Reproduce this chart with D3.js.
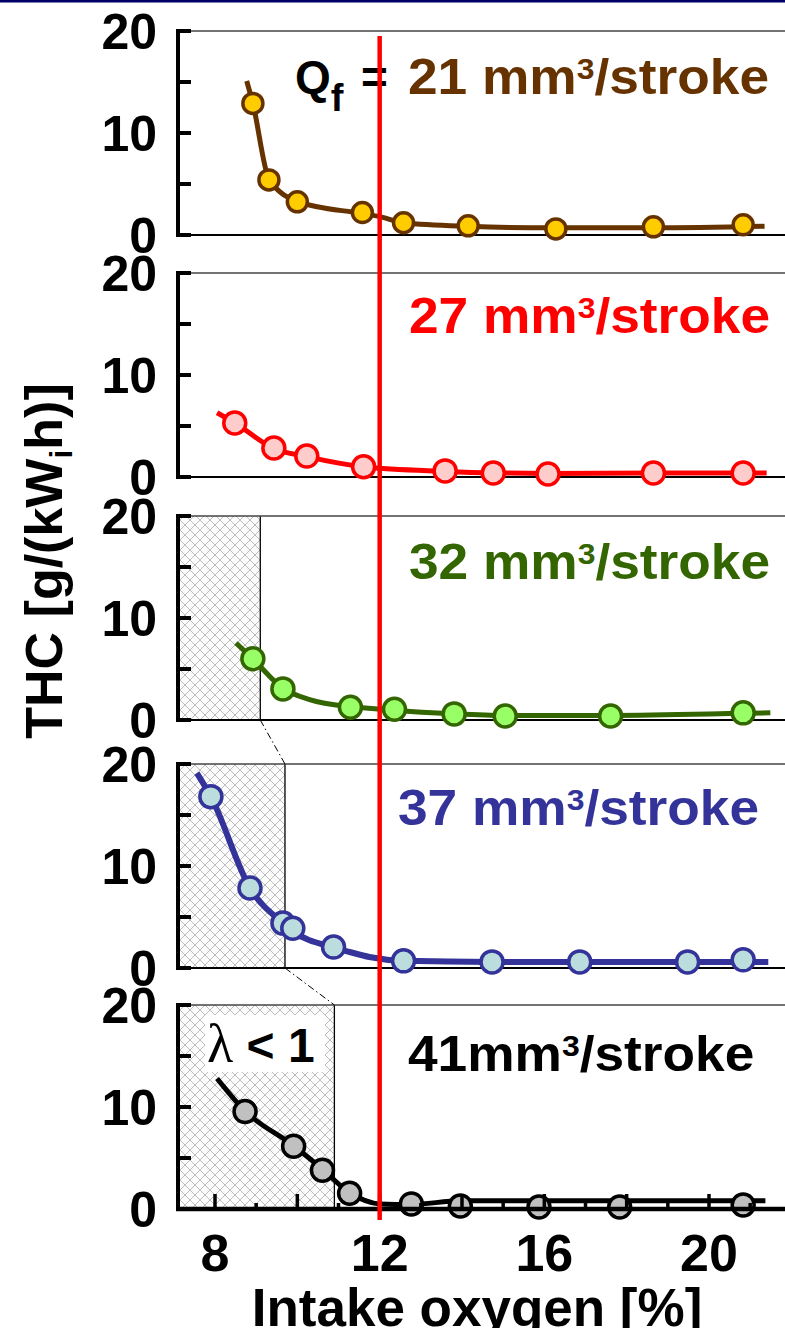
<!DOCTYPE html>
<html>
<head>
<meta charset="utf-8">
<script src="https://cdn.jsdelivr.net/npm/d3@7"></script>
<style>
  body { margin: 0; background: #fff; }
  svg { display: block; font-family: "Liberation Sans", Arial, sans-serif; font-weight: bold; }
</style>
</head>
<body>
<svg id="chart" width="785" height="1328"></svg>
<script>
// ---- data ----
const fuelQty    = ["21", "27", "32", "37", "41"];
const lineColors = ["#663300", "#ff0000", "#336600", "#333399", "#000000"];
const dotColors  = ["#ffcc00", "#ffcccc", "#99ff66", "#bbdddd", "#c0c0c0"];
const richLimit  = [null, null, 9.1, 9.7, 10.9];   // lambda < 1 below this O2
const o2Limit    = 12;                               // red vertical line

const o2_21  = [8.92, 9.31, 10.0, 11.58, 12.58, 14.15, 16.28, 18.65, 20.83];
const thc_21 = [12.9, 5.4, 3.25, 2.2, 1.2, 0.9, 0.6, 0.8, 1.0];
const fit_21 = [[8.77, 15.1], [8.92, 12.9], [9.31, 5.5], [10.0, 3.3], [11.58, 2.1], [12.0, 1.8],
                [12.58, 1.2], [14.15, 0.85], [16.28, 0.7], [18.65, 0.7], [21.35, 0.85]];

const o2_27  = [8.48, 9.43, 10.23, 11.61, 13.59, 14.76, 16.09, 18.65, 20.83];
const thc_27 = [5.3, 2.85, 2.05, 1.0, 0.6, 0.4, 0.3, 0.4, 0.4];
const fit_27 = [[8.05, 6.3], [8.48, 5.3], [9.43, 2.8], [10.23, 2.0], [11.61, 1.0], [13.59, 0.55],
                [14.76, 0.4], [16.09, 0.35], [18.65, 0.4], [21.4, 0.4]];

const o2_32  = [8.92, 9.65, 11.29, 12.36, 13.81, 15.05, 17.61, 20.83];
const thc_32 = [6.0, 3.05, 1.25, 1.05, 0.6, 0.4, 0.4, 0.7];
const fit_32 = [[8.51, 7.55], [8.92, 6.0], [9.65, 3.1], [10.3, 2.0], [11.29, 1.3], [12.0, 1.08],
                [12.36, 0.95], [13.81, 0.6], [15.05, 0.45], [17.61, 0.45], [20.83, 0.65], [21.49, 0.7]];

const o2_37  = [7.9, 8.85, 9.65, 9.89, 10.88, 12.58, 14.73, 16.86, 19.48, 20.83];
const thc_37 = [16.8, 7.85, 4.4, 3.9, 2.05, 0.7, 0.6, 0.6, 0.6, 0.8];
const fit_37 = [[7.56, 19.1], [7.9, 16.8], [8.85, 7.85], [9.65, 4.4], [9.89, 3.6], [10.88, 2.0],
                [11.27, 1.57], [11.75, 1.08], [12.58, 0.7], [14.73, 0.6], [21.44, 0.6]];

const o2_41  = [8.73, 9.91, 10.61, 11.27, 12.77, 13.96, 15.87, 17.83, 20.83];
const thc_41 = [9.55, 6.15, 3.8, 1.55, 0.5, 0.3, 0.2, 0.2, 0.4];
const fit_41 = [[8.05, 12.8], [8.73, 9.6], [9.91, 6.2], [10.61, 3.9], [11.27, 1.6], [12.0, 0.5],
                [12.77, 0.45], [13.96, 0.8], [17.3, 0.8], [21.37, 0.8]];

const yTicks = [0, 10, 20];
const xTicks = [8, 12, 16, 20];

const seriesX = [o2_21, o2_27, o2_32, o2_37, o2_41];
const seriesY = [thc_21, thc_27, thc_32, thc_37, thc_41];
const fits    = [fit_21, fit_27, fit_32, fit_37, fit_41];

// ---- layout ----
const axisX = 178, rightX = 785;
const panelTop = [31, 273, 516, 764, 1005];
const panelH = 204;
const labelX = [408, 409, 409, 398, 408];
const labelDy = [63, 60, 63, 61, 66];

const svg = d3.select("#chart");

const x = d3.scaleLinear().domain([8, 20]).range([215, 709]);

// hatch pattern for rich region
const pat = svg.append("defs").append("pattern")
    .attr("id", "hatch")
    .attr("patternUnits", "userSpaceOnUse")
    .attr("width", 10).attr("height", 10);
pat.append("rect").attr("width", 10).attr("height", 10).attr("fill", "#fcfcfc");
pat.append("path").attr("d", "M0,0L10,10M10,0L0,10M-1,9L1,11M9,-1L11,1")
    .attr("stroke", "#bdbdbd").attr("stroke-width", 1);

// top rule
svg.append("rect").attr("x", 0).attr("y", 0).attr("width", 785).attr("height", 2.5).attr("fill", "#000066");

fuelQty.forEach((q, i) => {
    const top = panelTop[i], bottom = top + panelH;
    const y = d3.scaleLinear().domain([0, 20]).range([bottom, top]);
    const g = svg.append("g");

    // rich (lambda < 1) shaded area
    if (richLimit[i] != null) {
        g.append("rect")
            .attr("x", axisX).attr("y", top)
            .attr("width", x(richLimit[i]) - axisX).attr("height", panelH)
            .attr("fill", "url(#hatch)");
        g.append("line")
            .attr("x1", x(richLimit[i])).attr("x2", x(richLimit[i]))
            .attr("y1", top).attr("y2", bottom)
            .attr("stroke", "#000").attr("stroke-width", 1.3);
    }

    // frame
    g.append("line").attr("x1", axisX + 10).attr("x2", rightX).attr("y1", top).attr("y2", top)
        .attr("stroke", "#444").attr("stroke-width", 1.3);
    if (i < 4) {
        g.append("line").attr("x1", axisX).attr("x2", rightX).attr("y1", bottom).attr("y2", bottom)
            .attr("stroke", "#000").attr("stroke-width", 1.8);
    }

    // y axis
    g.append("line").attr("x1", axisX).attr("x2", axisX).attr("y1", top - 2).attr("y2", bottom + 2)
        .attr("stroke", "#000").attr("stroke-width", 4);
    g.selectAll(".ytick").data([0, 5, 10, 15, 20]).enter().append("line")
        .attr("x1", axisX).attr("x2", axisX + 13)
        .attr("y1", d => y(d)).attr("y2", d => y(d))
        .attr("stroke", "#000").attr("stroke-width", 4);
    g.selectAll(".ylab").data(yTicks).enter().append("text")
        .attr("x", 157).attr("y", d => y(d)).attr("dy", "0.36em")
        .attr("text-anchor", "end").attr("font-size", 50)
        .text(d => d);

    // fitted curve
    g.append("path")
        .datum(fits[i])
        .attr("d", d3.line().x(d => x(d[0])).y(d => y(d[1])).curve(d3.curveMonotoneX))
        .attr("fill", "none").attr("stroke", lineColors[i])
        .attr("stroke-width", i === 3 ? 6 : 5);

    // measured points
    g.selectAll("circle").data(seriesX[i]).enter().append("circle")
        .attr("cx", d => x(d)).attr("cy", (d, k) => y(seriesY[i][k]))
        .attr("r", i === 0 ? 10 : 11)
        .attr("fill", dotColors[i]).attr("stroke", lineColors[i]).attr("stroke-width", 3.5);

    // label (slightly widened like the original lettering)
    const t = g.append("text")
        .attr("transform", `translate(${labelX[i]},${top + labelDy[i]}) scale(1.065,1)`)
        .attr("font-size", 50).attr("fill", lineColors[i]);
    t.append("tspan").text(i === 4 ? q + "mm" : q + " mm");
    t.append("tspan").attr("font-size", 30).attr("dy", -15).text("3");
    t.append("tspan").attr("dy", 15).text("/stroke");
});

// Q_f = on first panel
const qf = svg.append("text").attr("y", 93).attr("font-size", 46).attr("fill", "#000");
qf.append("tspan").attr("x", 295).text("Q");
qf.append("tspan").attr("font-size", 38).attr("dy", 18).text("f");
qf.append("tspan").attr("x", 361).attr("dy", -18).text("=");

// dash-dot connectors between shaded areas
[[2, 3], [3, 4]].forEach(([a, b]) => {
    svg.append("line")
        .attr("x1", x(richLimit[a])).attr("y1", panelTop[a] + panelH)
        .attr("x2", x(richLimit[b])).attr("y2", panelTop[b])
        .attr("stroke", "#000").attr("stroke-width", 1)
        .attr("stroke-dasharray", "7,3,1.5,3");
});

// lambda < 1 label
const lastTop = panelTop[4], lastBottom = panelTop[4] + panelH;
svg.append("rect").attr("x", 205).attr("y", lastTop + 10).attr("width", 120).attr("height", 57).attr("fill", "#fff");
const lam = svg.append("text").attr("x", 207).attr("y", lastTop + 57).attr("font-size", 48);
lam.append("tspan").attr("font-family", "Liberation Serif, serif").attr("font-weight", "normal").attr("font-size", 54).text("λ");
lam.append("tspan").text(" < 1");

// bottom x axis
svg.append("line").attr("x1", axisX - 2).attr("x2", rightX).attr("y1", lastBottom).attr("y2", lastBottom)
    .attr("stroke", "#000").attr("stroke-width", 4.5);
svg.selectAll(".xtick").data(d3.range(8, 22, 1)).enter().append("line")
    .attr("x1", d => x(d)).attr("x2", d => x(d))
    .attr("y1", lastBottom).attr("y2", d => lastBottom - (d % 2 === 0 ? 15 : 6))
    .attr("stroke", "#000").attr("stroke-width", 3.5);
svg.selectAll(".xlab").data(xTicks).enter().append("text")
    .attr("x", d => x(d)).attr("y", 1271)
    .attr("text-anchor", "middle").attr("font-size", 52)
    .text(d => d);

// red O2 limit line
svg.append("line").attr("x1", x(o2Limit)).attr("x2", x(o2Limit)).attr("y1", 36).attr("y2", 1220)
    .attr("stroke", "#ff0000").attr("stroke-width", 4.5);

// axis titles
svg.append("text").attr("x", 477).attr("y", 1326).attr("text-anchor", "middle").attr("font-size", 53)
    .text("Intake oxygen [%]");
const yt = svg.append("text").attr("transform", "translate(62,561) rotate(-90)")
    .attr("text-anchor", "middle").attr("font-size", 52);
yt.append("tspan").text("THC [g/(kW");
yt.append("tspan").attr("font-size", 32).attr("dy", 10).text("i");
yt.append("tspan").attr("dy", -10).text("h)]");
</script>
</body>
</html>
